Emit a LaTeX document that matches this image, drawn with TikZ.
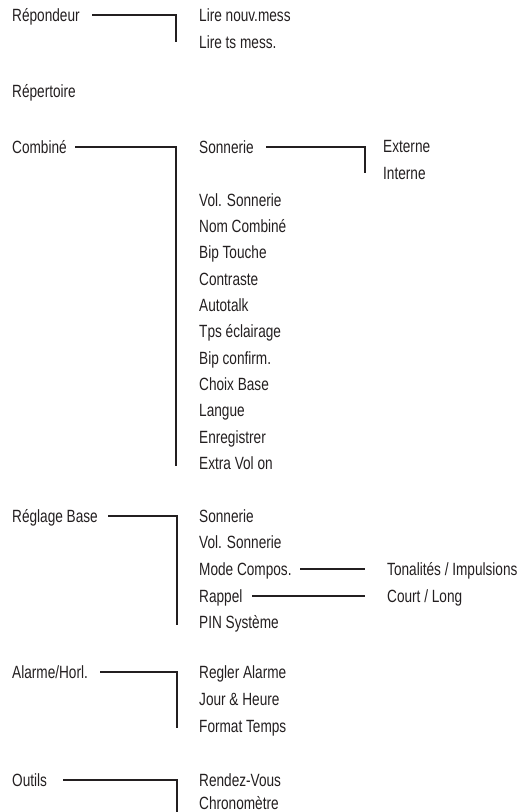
\documentclass[tikz,border=0pt]{standalone}
\usepackage{fontspec}
\setmainfont[FakeStretch=0.77]{Liberation Sans}
\definecolor{ink}{HTML}{231F20}
\begin{document}
\begin{tikzpicture}[x=1pt,y=-1pt,
  item/.style={anchor=west, inner sep=0pt, text height=12.6pt, text depth=0pt,
    font=\fontsize{17.7}{19}\selectfont, text=ink},
  link/.style={draw=ink, line width=1.3pt}]
\useasboundingbox (0,0) rectangle (522,812);
% level 1
\node[item] (rep) at (12,15) {Répondeur};
\node[item] (rpt) at (12,91) {Répertoire};
\node[item] (com) at (12,147) {Combiné};
\node[item] (reg) at (12,516) {Réglage Base};
\node[item] (ala) at (12,672) {Alarme/Horl.};
\node[item] (out) at (12,780) {Outils};
% Répondeur
\node[item] (lnm) at (199,15) {Lire nouv.mess};
\node[item] (lts) at (199,42) {Lire ts mess.};
% Combiné
\node[item] (cson) at (199,147) {Sonnerie};
\node[item] (ext) at (383,146) {Externe};
\node[item] (int) at (383,173) {Interne};
\node[item] (cvol) at (199,200) {Vol. Sonnerie};
\node[item] (nom) at (199,226.3) {Nom Combiné};
\node[item] (bip) at (199,252.6) {Bip Touche};
\node[item] (con) at (199,278.9) {Contraste};
\node[item] (aut) at (199,305.2) {Autotalk};
\node[item] (tps) at (199,331.5) {Tps éclairage};
\node[item] (bcf) at (199,357.8) {Bip confirm.};
\node[item] (cho) at (199,384.1) {Choix Base};
\node[item] (lan) at (199,410.4) {Langue};
\node[item] (enr) at (199,436.7) {Enregistrer};
\node[item] (xvo) at (199,463) {Extra Vol on};
% Réglage Base
\node[item] (rson) at (199,516) {Sonnerie};
\node[item] (rvol) at (199,542.5) {Vol. Sonnerie};
\node[item] (mod) at (199,569) {Mode Compos.};
\node[item] (rap) at (199,596) {Rappel};
\node[item] (pin) at (199,622) {PIN Système};
\node[item] (ton) at (387,569) {Tonalités / Impulsions};
\node[item] (cou) at (387,596) {Court / Long};
% Alarme
\node[item] (rgl) at (199,672) {Regler Alarme};
\node[item] (jou) at (199,699) {Jour \& Heure};
\node[item] (fmt) at (199,726) {Format Temps};
% Outils
\node[item] (rdv) at (199,780) {Rendez-Vous};
\node[item] (chr) at (199,803) {Chronomètre};
\coordinate (oend) at (177,812);
% connectors
\draw[link] (rep.east -| 92,0) -| (lts.west -| 176,0);
\draw[link] (com.east -| 75,0) -| ([yshift=-3pt]xvo.west -| 176,0);
\draw[link] (cson.east -| 266,0) -| (int.west -| 365,0);
\draw[link] (reg.east -| 108,0) -| ([yshift=-3pt]pin.west -| 177,0);
\draw[link] (mod.east -| 300,0) -- (mod.east -| 365,0);
\draw[link] (rap.east -| 252,0) -- (rap.east -| 365,0);
\draw[link] (ala.east -| 100,0) -| ([yshift=-2pt]fmt.west -| 177,0);
\draw[link] (out.east -| 63,0) -| (oend);
\end{tikzpicture}
\end{document}
